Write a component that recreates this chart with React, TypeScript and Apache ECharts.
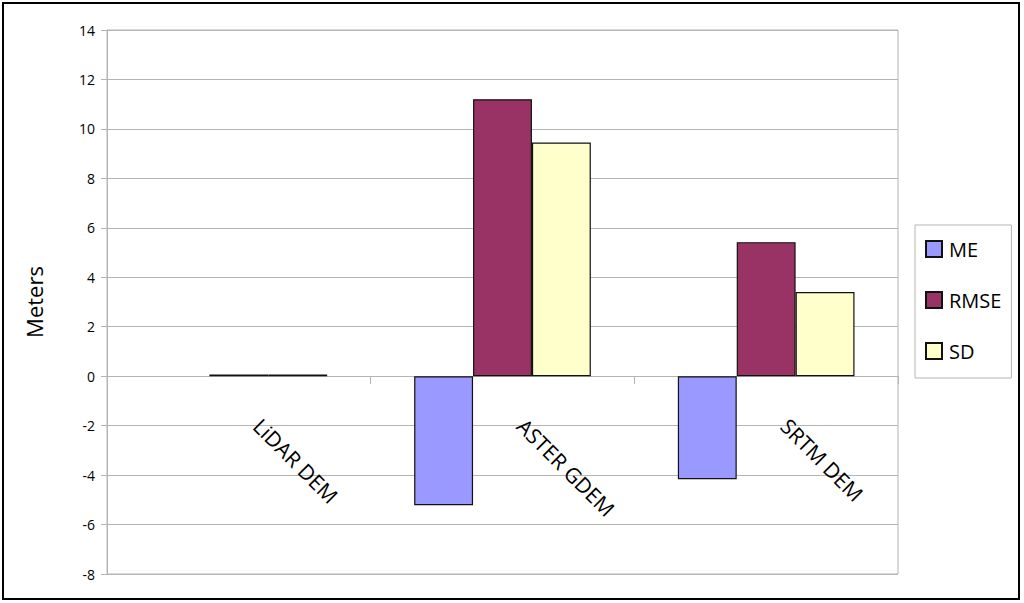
import React, { useEffect, useRef } from "react";
import * as echarts from "echarts";

const categories = ["LiDAR DEM", "ASTER GDEM", "SRTM DEM"];
const meValues = [0, -5.22, -4.17];
const rmseValues = [0.07, 11.2, 5.42];
const sdValues = [0.07, 9.45, 3.4];
const seriesNames = ["ME", "RMSE", "SD"];
const seriesColors = ["#9999FF", "#993366", "#FFFFCC"];
const yTitle = "Meters";

export default function App() {
  const ref = useRef<HTMLDivElement>(null);
  useEffect(() => {
    if (!ref.current) return;
    const chart = echarts.init(ref.current, null, { renderer: "svg" });
    const font = "Open Sans";
    const values = [meValues, rmseValues, sdValues];
    const series = values.map((vals, i) => ({
      name: seriesNames[i],
      type: "bar",
      barGap: "0%",
      barCategoryGap: "33%",
      itemStyle: { color: seriesColors[i], borderColor: "#111", borderWidth: 1.2 },
      data: vals.map((v) =>
        v === 0 ? { value: v, itemStyle: { borderWidth: 0 } } : v
      ),
    }));
    chart.setOption({
      animation: false,
      backgroundColor: "#fff",
      textStyle: { fontFamily: font },
      grid: {
        left: 107,
        top: 30,
        width: 791,
        height: 544,
        show: true,
        borderColor: "#b4b4b4",
        borderWidth: 1,
        containLabel: false,
        outerBoundsMode: "none",
      },
      legend: {
        orient: "vertical",
        left: 915,
        top: 225,
        padding: [14, 10, 17, 10],
        icon: "rect",
        itemWidth: 16,
        itemHeight: 16,
        itemGap: 31,
        borderColor: "#b4b4b4",
        borderWidth: 1,
        textStyle: { fontFamily: font, fontSize: 20, color: "#000", padding: [0, 0, 0, 2] },
        data: seriesNames,
      },
      xAxis: {
        type: "category",
        data: categories,
        axisLine: { onZero: true, lineStyle: { color: "#b4b4b4", width: 1 } },
        axisTick: { show: true, length: 8, lineStyle: { color: "#b4b4b4" } },
        axisLabel: {
          rotate: -45,
          margin: -170,
          padding: [0, 0, 0, 26],
          fontFamily: font,
          fontSize: 21,
          color: "#000",
        },
      },
      yAxis: {
        type: "value",
        min: -8,
        max: 14,
        interval: 2,
        name: yTitle,
        nameLocation: "middle",
        nameGap: 62,
        nameTextStyle: { fontFamily: font, fontSize: 22, color: "#000" },
        axisLine: { show: true, lineStyle: { color: "#b4b4b4" } },
        axisTick: { show: true, length: 6, lineStyle: { color: "#b4b4b4" } },
        axisLabel: { fontFamily: font, fontSize: 14, color: "#000", margin: 12 },
        splitLine: { lineStyle: { color: "#b4b4b4" } },
      },
      graphic: [
        {
          type: "rect",
          shape: { x: 3, y: 3, width: 1016, height: 596 },
          style: { fill: "none", stroke: "#000", lineWidth: 2 },
          silent: true,
        },
      ],
      series,
    });
    return () => chart.dispose();
  }, []);
  return (
    <div
      ref={ref}
      style={{ position: "fixed", left: 0, top: 0, width: 1024, height: 603 }}
    />
  );
}
